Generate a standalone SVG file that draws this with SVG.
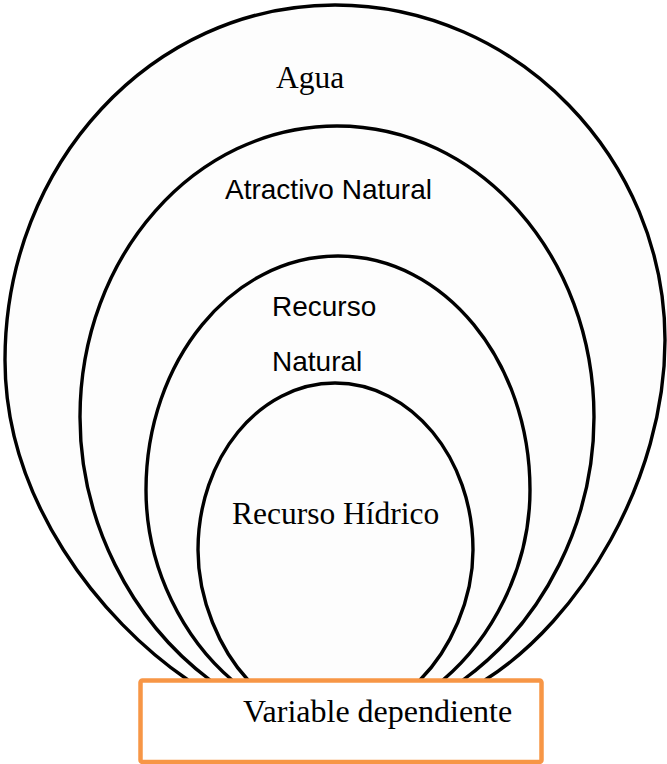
<svg xmlns="http://www.w3.org/2000/svg" width="667" height="764" viewBox="0 0 667 764">
<style>
.ring{fill:#fdfdfd;stroke:#000;stroke-width:3.4}
.serif{font-family:"Liberation Serif","Times New Roman",serif;font-size:31.5px;fill:#000}
.sans{font-family:"Liberation Sans",Arial,sans-serif;font-size:28px;fill:#000}
.box{fill:#fff;stroke:#f79646;stroke-width:4.5}
</style>
<rect width="667" height="764" fill="#fff"/>
<g id="agua">
<path class="ring" d="M188,680 C100,620 5,500 5,360 C5,164 152,5 335,5 C518,5 665,160 665,340 C665,480 580,620 485,680"/>
<text class="serif" x="276" y="88">Agua</text>
</g>
<g id="atractivo-natural">
<path class="ring" d="M210,680 C130,620 80,520 80,417 C80,256 195,126 337,126 C479,126 594,256 594,417 C594,520 545,620 463,680"/>
<text class="sans" x="225" y="199">Atractivo Natural</text>
</g>
<g id="recurso-natural">
<path class="ring" d="M232,680 C185,640 146,570 146,490 C146,361 232,256 338,256 C444,256 530,361 530,490 C530,570 490,640 443,680"/>
<text class="sans" x="272" y="316">Recurso</text>
<text class="sans" x="272" y="371">Natural</text>
</g>
<g id="recurso-hidrico">
<path class="ring" d="M248,680 C220,650 198,600 198,550 C198,458 259,383 335,383 C411,383 473,458 473,550 C473,600 450,650 420,680"/>
<text class="serif" x="232" y="524">Recurso Hídrico</text>
</g>
<g id="variable-dependiente">
<rect class="box" x="140.5" y="680.5" width="401" height="81.5" rx="2"/>
<text class="serif" x="243" y="722" style="font-size:32px">Variable dependiente</text>
</g>
</svg>
